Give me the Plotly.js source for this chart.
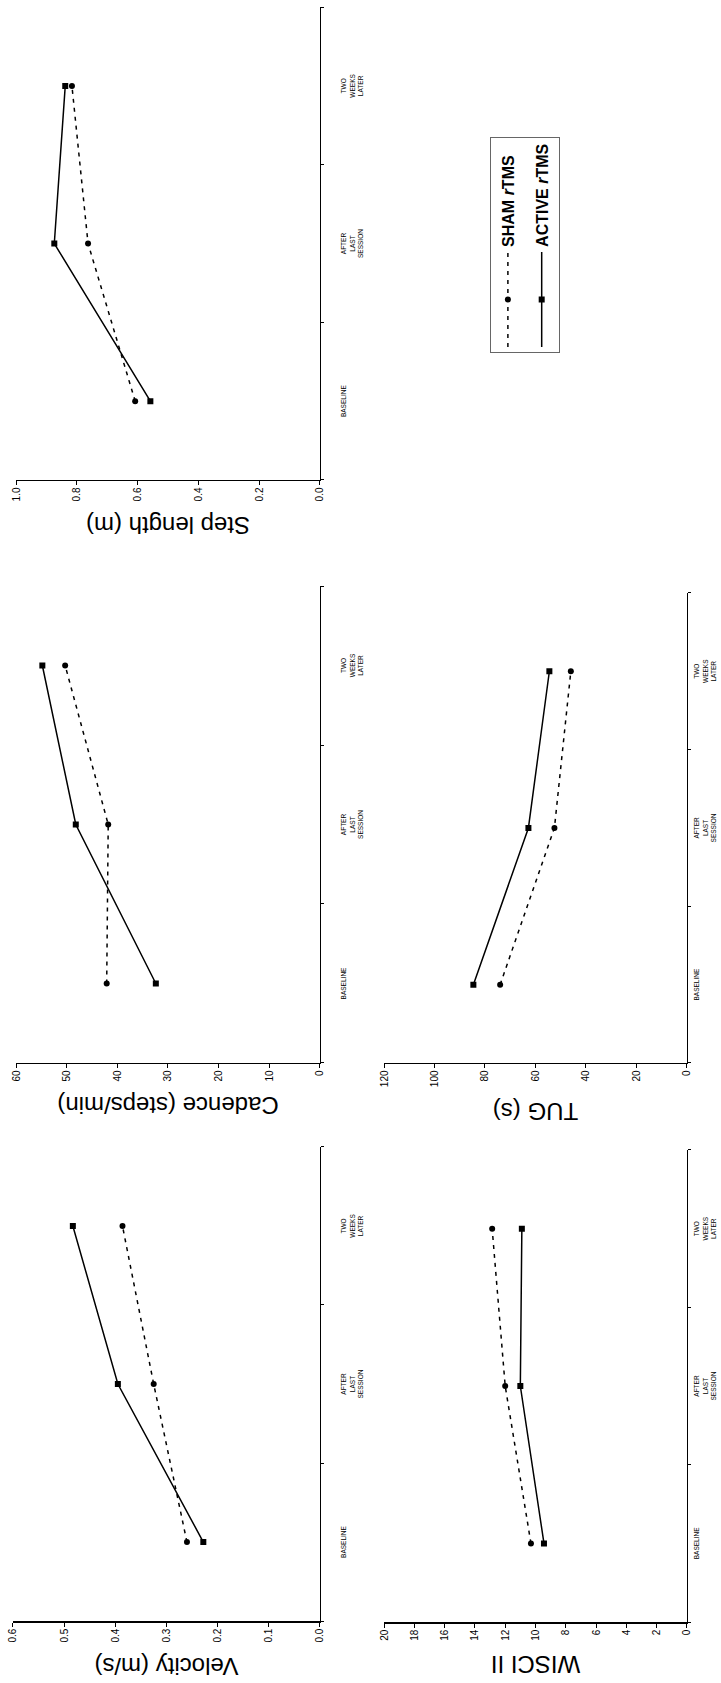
<!DOCTYPE html>
<html>
<head>
<meta charset="utf-8">
<script src="https://cdn.plot.ly/plotly-3.0.1.min.js"></script>
<style>
html,body{margin:0;padding:0;width:721px;height:1683px;overflow:hidden;background:#ffffff;}
#wrap{position:absolute;left:0;top:0;width:1683px;height:721px;transform-origin:0 0;transform:translate(0px,1683px) rotate(-90deg);}
#chart{width:1683px;height:721px;}
</style>
</head>
<body>
<div id="wrap"><div id="chart"></div></div>
<script>
// Categories (time points)
const categories = ['BASELINE', 'AFTER<br>LAST<br>SESSION', 'TWO<br>WEEKS<br>LATER'];

// Series names
const shamName = 'SHAM <i>r</i>TMS';
const activeName = 'ACTIVE <i>r</i>TMS';

// Velocity (m/s)
const velocitySham   = [0.260, 0.325, 0.386];
const velocityActive = [0.228, 0.395, 0.483];

// Cadence (steps/min)
const cadenceSham   = [42.1, 41.8, 50.3];
const cadenceActive = [32.4, 48.2, 54.8];

// Step length (m)
const stepSham   = [0.608, 0.763, 0.816];
const stepActive = [0.558, 0.874, 0.838];

// WISCI II
const wisciSham   = [10.3, 12.0, 12.86];
const wisciActive = [9.44, 11.0, 10.9];

// TUG (s)
const tugSham   = [74.0, 52.5, 46.0];
const tugActive = [84.6, 62.8, 54.5];

const FONT = 'Liberation Sans, Arial, Helvetica, sans-serif';

const panels = [
  {sham: velocitySham, active: velocityActive, title: 'Velocity (m/s)', range: [0, 0.6], dtick: 0.1, fmt: '.1f',
   xd: [0.0368, 0.3185], yd: [0.5562, 0.9820], standoff: 17},
  {sham: cadenceSham, active: cadenceActive, title: 'Cadence (steps/min)', range: [0, 60], dtick: 10, fmt: 'd',
   xd: [0.3684, 0.6518], yd: [0.5562, 0.9778], standoff: 17},
  {sham: stepSham, active: stepActive, title: 'Step length (m)', range: [0, 1.0], dtick: 0.2, fmt: '.1f',
   xd: [0.7148, 0.9958], yd: [0.5562, 0.9778], standoff: 17},
  {sham: wisciSham, active: wisciActive, title: 'WISCI II', range: [0, 20], dtick: 2, fmt: 'd',
   xd: [0.0362, 0.3167], yd: [0.0472, 0.4674], standoff: 3},
  {sham: tugSham, active: tugActive, title: 'TUG (s)', range: [0, 120], dtick: 20, fmt: 'd',
   xd: [0.3684, 0.6477], yd: [0.0472, 0.4674], standoff: 3}
];

const traces = [];
const layout = {
  width: 1683, height: 721,
  margin: {l: 0, r: 0, t: 0, b: 0},
  paper_bgcolor: '#ffffff', plot_bgcolor: '#ffffff',
  font: {family: FONT, color: '#000000'},
  showlegend: true,
  legend: {
    x: 0.7903, y: 0.3204, xanchor: 'left', yanchor: 'top',
    bordercolor: '#666666', borderwidth: 1, bgcolor: '#ffffff',
    font: {family: FONT, size: 16, color: '#000000', weight: 'bold'},
    itemwidth: 95, tracegroupgap: 10
  }
};

panels.forEach((p, i) => {
  const n = i + 1;
  const xa = n === 1 ? 'x' : 'x' + n;
  const ya = n === 1 ? 'y' : 'y' + n;
  traces.push({
    type: 'scatter', mode: 'lines+markers', x: categories, y: p.sham,
    xaxis: xa, yaxis: ya, name: shamName, legendgroup: 'sham', showlegend: i === 0,
    line: {color: '#000000', width: 1.5, dash: '4px,5px'},
    marker: {symbol: 'circle', size: 6, color: '#000000'}
  });
  traces.push({
    type: 'scatter', mode: 'lines+markers', x: categories, y: p.active,
    xaxis: xa, yaxis: ya, name: activeName, legendgroup: 'active', showlegend: i === 0,
    line: {color: '#000000', width: 1.5},
    marker: {symbol: 'square', size: 6, color: '#000000'}
  });
  layout['xaxis' + (n === 1 ? '' : n)] = {
    type: 'category', domain: p.xd, range: [-0.5, 2.5], anchor: ya,
    categoryorder: 'array', categoryarray: categories,
    showline: true, linecolor: '#000000', linewidth: 1.5,
    ticks: 'outside', tickson: 'boundaries', ticklen: 3, tickcolor: '#000000', tickwidth: 1,
    tickfont: {family: FONT, size: 6.5, color: '#000000'}, tickangle: 0,
    ticklabelstandoff: p.standoff,
    showgrid: false, zeroline: false, fixedrange: true
  };
  layout['yaxis' + (n === 1 ? '' : n)] = {
    domain: p.yd, range: p.range, dtick: p.dtick, tick0: 0, tickformat: p.fmt, anchor: xa,
    showline: true, linecolor: '#000000', linewidth: 1.5,
    ticks: 'outside', ticklen: 4, tickcolor: '#000000', tickwidth: 1,
    tickfont: {family: FONT, size: 10, color: '#000000'},
    title: {text: p.title, font: {family: FONT, size: 24, color: '#000000'}, standoff: 8},
    showgrid: false, zeroline: false, fixedrange: true
  };
});

Plotly.newPlot('chart', traces, layout, {staticPlot: true, displayModeBar: false});
</script>
</body>
</html>
